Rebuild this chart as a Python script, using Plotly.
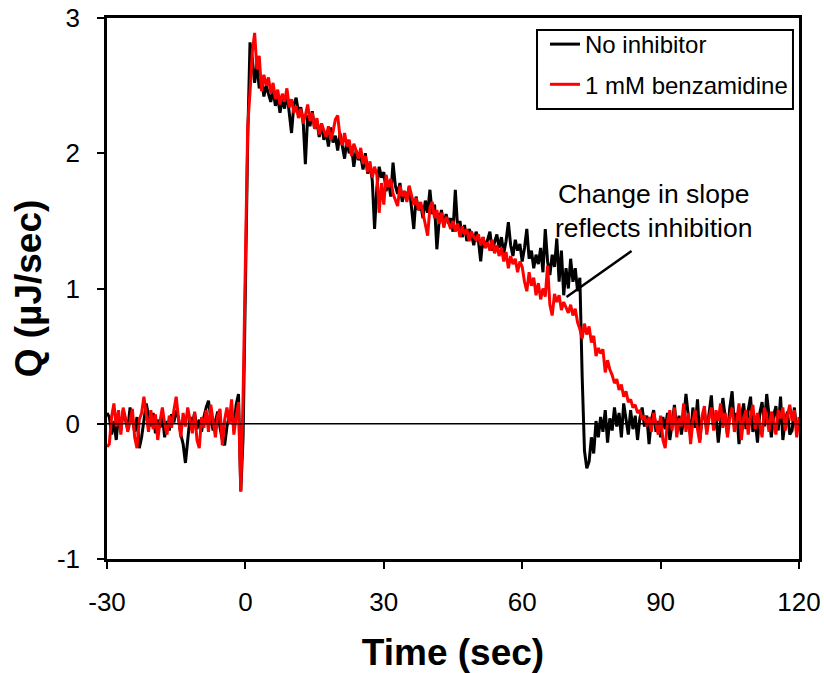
import numpy as np
import plotly.graph_objects as go

# time grid (sec), 0.5 s sampling from -30 to 120
t_start, t_step = -30.0, 0.5

q_no_inhibitor = [
    0.08, 0.05, -0.08, 0.02, -0.12, 0.06, -0.05, 0.10, 0.03, -0.04,
    0.12, 0.02, -0.06, 0.05, -0.18, -0.10, 0.04, 0.15, 0.06, -0.02,
    0.08, -0.07, 0.03, -0.03, 0.06, -0.10, 0.02, -0.05, 0.07, 0.01,
    0.10, 0.04, -0.08, -0.15, -0.29, -0.12, 0.05, 0.00, 0.08, -0.04,
    0.03, -0.06, 0.05, 0.12, 0.17, 0.04, -0.05, 0.02, 0.09, -0.03,
    -0.12, -0.16, -0.02, 0.06, 0.08, -0.03, 0.14, 0.22, -0.50, -0.10,
    1.00, 2.10, 2.82, 2.70, 2.52, 2.66, 2.48, 2.55, 2.42, 2.50,
    2.44, 2.38, 2.47, 2.35, 2.42, 2.30, 2.40, 2.33, 2.45, 2.28,
    2.15, 2.36, 2.41, 2.30, 2.34, 2.25, 1.92, 2.28, 2.20, 2.31,
    2.18, 2.24, 2.12, 2.22, 2.10, 2.16, 2.05, 2.19, 2.08, 2.13,
    2.02, 2.15, 2.06, 1.96, 2.10, 2.00, 2.05, 1.90, 2.02, 1.95,
    1.98, 1.88, 2.00, 1.85, 1.92, 1.80, 1.44, 1.75, 1.90, 1.82,
    1.86, 1.72, 1.80, 1.68, 1.93, 1.76, 1.70, 1.78, 1.64, 1.72,
    1.66, 1.75, 1.60, 1.44, 1.68, 1.58, 1.62, 1.52, 1.65, 1.56,
    1.73, 1.55, 1.62, 1.29, 1.50, 1.58, 1.46, 1.55, 1.48, 1.52,
    1.42, 1.73, 1.45, 1.50, 1.38, 1.47, 1.35, 1.44, 1.40, 1.32,
    1.42, 1.36, 1.20, 1.38, 1.30, 1.36, 1.42, 1.28, 1.34, 1.40,
    1.30, 1.38, 1.26, 1.35, 1.49, 1.32, 1.24, 1.36, 1.28, 1.33,
    1.20, 1.30, 1.44, 1.22, 1.28, 1.15, 1.25, 1.18, 1.30, 1.12,
    1.44, 1.20, 1.10, 1.25, 1.16, 1.37, 1.05, 1.28, 0.95, 1.15,
    1.00, 1.22, 1.05, 1.15, 0.98, 1.08, 0.35, -0.20, -0.33, -0.28,
    -0.10, -0.22, 0.02, -0.10, 0.05, -0.06, 0.10, -0.14, 0.04, -0.05,
    0.12, -0.02, 0.08, -0.10, 0.15, 0.02, -0.08, 0.10, -0.04, 0.06,
    -0.12, 0.04, 0.12, -0.02, 0.06, -0.15, 0.03, 0.10, -0.06, 0.02,
    -0.10, 0.05, -0.04, 0.08, -0.12, 0.00, 0.14, -0.05, 0.06, -0.08,
    0.03, 0.22, 0.05, -0.10, 0.12, -0.03, 0.18, -0.12, 0.04, 0.09,
    -0.06, 0.10, 0.21, -0.04, 0.06, -0.14, 0.02, 0.19, 0.05, -0.08,
    0.12, 0.24, -0.02, 0.08, -0.15, 0.05, 0.15, -0.04, 0.10, 0.20,
    -0.06, 0.03, -0.14, 0.08, 0.16, -0.02, 0.22, 0.04, -0.10, 0.06,
    0.13, -0.05, 0.20, -0.12, 0.02, 0.09, -0.08, -0.05, 0.12, -0.06,
    0.00,
]

q_benzamidine = [
    -0.17, -0.15, 0.05, 0.15, -0.02, 0.10, -0.08, 0.12, 0.04, -0.06,
    0.02, 0.11, -0.10, -0.18, 0.03, 0.08, 0.20, 0.05, -0.06, 0.10,
    -0.04, 0.07, -0.12, 0.02, 0.12, 0.00, -0.08, 0.06, -0.03, 0.10,
    0.20, 0.04, -0.10, 0.08, -0.02, 0.12, 0.03, -0.07, 0.09, -0.12,
    -0.18, 0.05, -0.03, 0.10, -0.06, 0.14, 0.02, -0.10, 0.06, 0.11,
    -0.16, 0.03, 0.12, 0.00, 0.18, -0.08, 0.05, 0.16, -0.50, 0.20,
    1.20, 2.20, 2.45, 2.75, 2.89, 2.62, 2.72, 2.46, 2.58, 2.50,
    2.56, 2.44, 2.52, 2.40, 2.47, 2.36, 2.44, 2.38, 2.48, 2.34,
    2.40, 2.30, 2.35, 2.26, 2.33, 2.22, 2.28, 2.36, 2.24, 2.30,
    2.18, 2.26, 2.14, 2.22, 2.17, 2.12, 2.20, 2.10, 2.16, 2.25,
    2.28, 2.12, 2.06, 2.15, 2.05, 2.10, 1.98, 2.07, 2.02, 1.96,
    2.04, 1.92, 1.98, 1.86, 1.94, 1.82, 1.90, 1.84, 1.56, 1.78,
    1.62, 1.84, 1.75, 1.81, 1.70, 1.66, 1.61, 1.76, 1.68, 1.72,
    1.64, 1.76, 1.70, 1.62, 1.67, 1.58, 1.64, 1.55, 1.48, 1.39,
    1.60, 1.64, 1.52, 1.58, 1.48, 1.56, 1.45, 1.53, 1.49, 1.44,
    1.50, 1.42, 1.48, 1.38, 1.46, 1.40, 1.44, 1.35, 1.42, 1.38,
    1.36, 1.40, 1.32, 1.38, 1.30, 1.34, 1.28, 1.36, 1.26, 1.32,
    1.24, 1.30, 1.20, 1.27, 1.15, 1.24, 1.18, 1.22, 1.12, 1.20,
    1.16, 1.05, 0.98, 1.12, 1.02, 1.08, 0.95, 1.04, 0.92, 1.00,
    0.94, 1.17, 0.88, 0.80, 0.96, 0.90, 0.95, 0.84, 0.90, 0.86,
    0.82, 0.88, 0.80, 0.85, 0.75, 0.70, 0.63, 0.74, 0.66, 0.72,
    0.60, 0.65, 0.50, 0.56, 0.52, 0.55, 0.38, 0.47, 0.40, 0.36,
    0.30, 0.33, 0.25, 0.29, 0.20, 0.24, 0.16, 0.18, 0.12, 0.14,
    0.08, 0.10, 0.03, 0.06, -0.02, 0.05, -0.06, 0.08, 0.00, -0.08,
    0.06, -0.12, -0.18, 0.02, 0.10, -0.05, 0.12, -0.10, 0.04, -0.02,
    0.15, -0.06, 0.08, -0.15, 0.02, 0.10, -0.04, -0.14, 0.06, 0.13,
    -0.08, 0.04, 0.12, -0.05, 0.10, 0.02, 0.15, -0.03, 0.08, -0.10,
    0.05, 0.12, -0.06, 0.02, 0.15, -0.12, 0.04, 0.10, -0.08, 0.06,
    0.14, -0.04, 0.08, 0.00, -0.10, 0.12, 0.05, -0.06, 0.09, 0.02,
    -0.08, 0.10, 0.04, 0.12, -0.05, 0.06, 0.14, 0.02, 0.10, -0.10,
    0.05,
]

time_s = t_start + t_step * np.arange(len(q_no_inhibitor))

series_names = ["No inhibitor", "1 mM benzamidine"]
series_colors = ["#000000", "#ff0000"]

x_ticks = [-30, 0, 30, 60, 90, 120]
x_ticktext = ["-30", "0", "30", "60", "90", "120"]
y_ticks = [-1, 0, 1, 2, 3]
y_ticktext = ["-1", "0", "1", "2", "3"]

annot_text = "Change in slope<br>reflects inhibition"
annot_text_pos = (88.4, 1.575)
pointer_tail = (83.7, 1.277)
pointer_head = (69.6, 0.937)

FONT = "Liberation Sans, Arial, sans-serif"

fig = go.Figure()
for name, color, q in zip(series_names, series_colors, [q_no_inhibitor, q_benzamidine]):
    fig.add_trace(go.Scatter(
        x=time_s, y=q, mode="lines", name=name,
        line=dict(color=color, width=3), legendgroup=name,
    ))

fig.add_shape(type="line", xref="paper", yref="y", x0=0, x1=1, y0=0, y1=0,
              line=dict(color="black", width=1.5), layer="above")
fig.add_shape(type="line", xref="x", yref="y",
              x0=pointer_tail[0], y0=pointer_tail[1], x1=pointer_head[0], y1=pointer_head[1],
              line=dict(color="black", width=2.5), layer="above")
fig.add_annotation(x=annot_text_pos[0], y=annot_text_pos[1], text=annot_text,
                   showarrow=False, font=dict(family=FONT, size=26.5, color="black"),
                   align="center")

# legend frame
fig.add_shape(type="rect", xref="paper", yref="paper",
              x0=0.6214, x1=0.9913, y0=0.8318, y1=0.9778,
              line=dict(color="black", width=2), fillcolor="white", layer="below")

axis_common = dict(
    showline=True, linecolor="black", linewidth=2.5, mirror=True,
    ticks="outside", ticklen=7, tickwidth=2, tickcolor="black",
    showgrid=False, zeroline=False, automargin=False,
    tickfont=dict(family=FONT, size=26, color="black"),
)
fig.update_xaxes(range=[-30, 120], tickvals=x_ticks, ticktext=x_ticktext,
                 ticklabelstandoff=11, **axis_common,
                 title=dict(text="<b>Time (sec)</b>", font=dict(family=FONT, size=37, color="black"),
                            standoff=24))
fig.update_yaxes(range=[-1, 3], tickvals=y_ticks, ticktext=y_ticktext,
                 ticklabelstandoff=12, **axis_common,
                 title=dict(text="<b>Q (µJ/sec)</b>", font=dict(family=FONT, size=37, color="black"),
                            standoff=4))

fig.update_layout(
    width=824, height=673,
    margin=dict(l=107, r=25, t=18, b=114),
    paper_bgcolor="white", plot_bgcolor="white",
    showlegend=True,
    legend=dict(x=0.9913, y=0.9778 + 8 / 541, xanchor="right", yanchor="top",
                bgcolor="rgba(0,0,0,0)", borderwidth=0,
                font=dict(family=FONT, size=24, color="black"),
                traceorder="grouped", tracegroupgap=6),
)

fig.write_html("out.html")
